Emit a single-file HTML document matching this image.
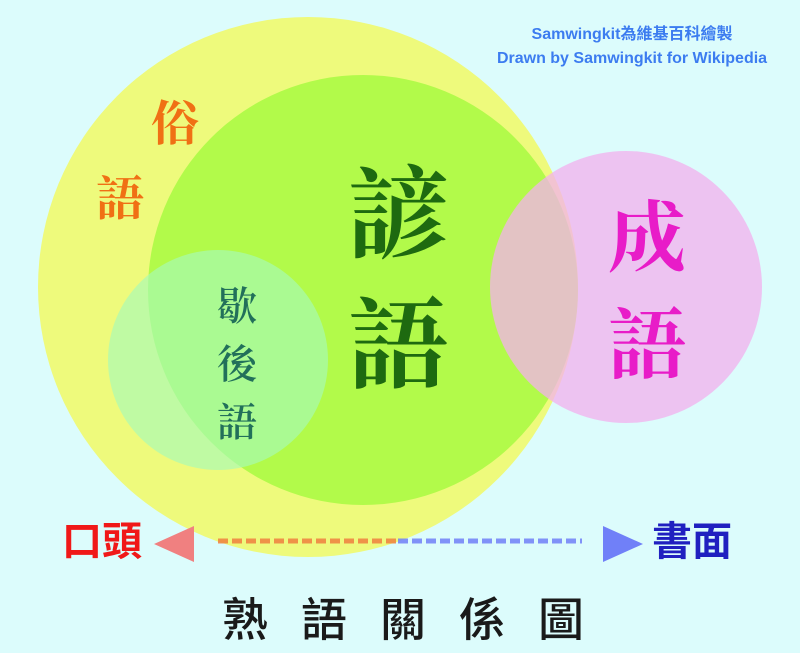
<!DOCTYPE html>
<html><head><meta charset="utf-8"><style>
html,body{margin:0;padding:0;background:#dcfcfc;}
svg{display:block}
</style></head><body>
<svg width="800" height="653" viewBox="0 0 800 653" xmlns="http://www.w3.org/2000/svg">
<rect width="800" height="653" fill="#dcfcfc"/>
<circle cx="308" cy="287" r="270" fill="#eefa7c"/>
<circle cx="363" cy="290" r="215" fill="#b2fa4a"/>
<circle cx="218" cy="360" r="110" fill="#a6fab8" opacity="0.65"/>
<circle cx="626" cy="287" r="136" fill="#f3b0ee" opacity="0.75"/>
<g font-family="'Liberation Serif','Noto Serif CJK SC',serif" font-weight="bold" text-anchor="middle">
<text x="175" y="140" font-size="48" fill="#f07014">俗</text>
<text x="120" y="215" font-size="48" fill="#f07014">語</text>
<text x="398" y="250" font-size="100" fill="#1e6a10">諺</text>
<text x="398" y="380" font-size="100" fill="#1e6a10">語</text>
</g>
<g font-family="'Liberation Serif','Noto Serif CJK SC',serif" font-weight="600" text-anchor="middle" fill="#22705a">
<text x="237" y="320" font-size="40">歇</text>
<text x="237" y="378" font-size="40">後</text>
<text x="237" y="436" font-size="40">語</text>
</g>
<g font-family="'Liberation Serif','Noto Serif CJK SC',serif" font-weight="bold" text-anchor="middle">
<text x="647" y="265" font-size="78" fill="#e81cc8">成</text>
<text x="647" y="372" font-size="78" fill="#e81cc8">語</text>
</g>
<g font-family="'Liberation Sans','Noto Sans CJK TC',sans-serif" font-size="16" font-weight="bold" fill="#3c7cf0" text-anchor="middle">
<text x="632" y="39">Samwingkit為維基百科繪製</text>
<text x="632" y="63">Drawn by Samwingkit for Wikipedia</text>
</g>
<polygon points="154,544 194,526 194,562" fill="#f08080"/>
<polygon points="643,544 603,526 603,562" fill="#7080f8"/>
<line x1="218" y1="541" x2="398" y2="541" stroke="#f08040" stroke-width="5" stroke-dasharray="10,4" opacity="0.85"/>
<line x1="398" y1="541" x2="582" y2="541" stroke="#7080f8" stroke-width="5" stroke-dasharray="10,4" opacity="0.85"/>
<g font-family="'Liberation Sans','Noto Sans CJK TC',sans-serif" font-weight="bold">
<text x="62" y="555" font-size="40" fill="#f01818">口頭</text>
<text x="652" y="555" font-size="40" fill="#2020c0">書面</text>
</g>
<text x="222" y="636" font-family="'Liberation Sans','Noto Sans CJK TC',sans-serif" font-weight="500" font-size="46" fill="#1a1a1a" letter-spacing="33">熟語關係圖</text>
</svg>
</body></html>
